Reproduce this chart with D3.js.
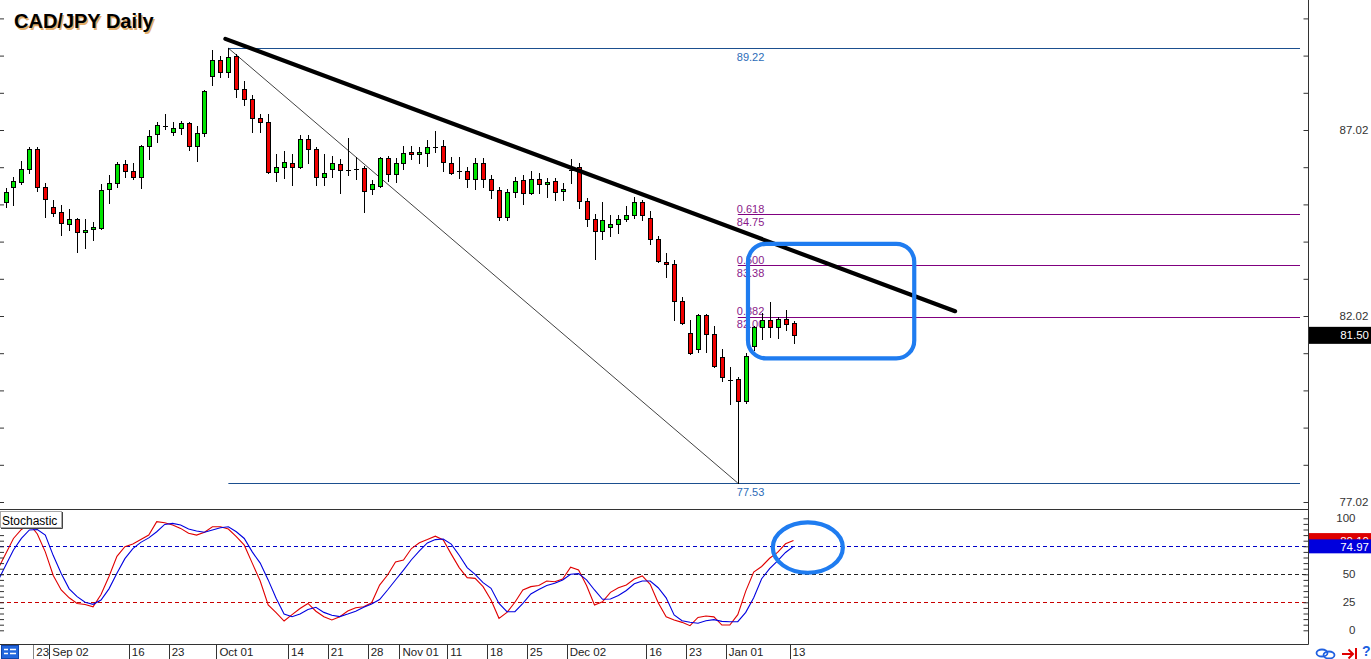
<!DOCTYPE html>
<html><head><meta charset="utf-8">
<script src="https://cdn.jsdelivr.net/npm/d3@7"></script>
<style>
html,body{margin:0;padding:0;background:#fff;overflow:hidden}
svg{display:block}
text{font-family:"Liberation Sans",Arial,sans-serif}
</style></head><body>
<script>
// ---------- DATA ----------
const openP=[85.08,85.48,85.63,85.96,86.50,85.48,84.94,84.81,84.49,84.62,
84.27,84.35,84.39,85.43,85.59,86.10,85.91,85.75,86.58,86.90,
87.14,86.96,87.07,87.20,86.58,86.93,88.46,88.89,88.59,89.01,
88.11,87.85,87.33,87.23,85.90,86.03,86.12,86.02,86.77,86.50,
85.75,85.96,86.10,85.94,85.97,85.99,85.43,85.51,86.26,85.83,
86.12,86.43,86.37,86.41,86.57,86.59,86.12,85.92,85.92,85.71,
86.12,85.69,85.41,84.67,85.35,85.68,85.32,85.69,85.56,85.65,
85.37,85.94,86.02,85.12,84.62,84.30,84.40,84.49,84.62,84.73,
85.08,84.65,84.08,83.48,83.41,82.43,81.55,81.14,82.04,81.53,
80.93,80.30,80.32,79.74,81.21,81.73,81.91,81.72,81.95,81.82];
const highP=[85.45,85.76,86.19,86.55,86.55,85.59,85.14,85.00,84.90,84.65,
84.62,84.54,85.57,85.81,86.17,86.21,86.12,86.61,87.02,87.24,
87.45,87.24,87.26,87.24,87.12,88.10,89.17,89.01,89.22,89.05,
88.34,87.95,87.45,87.44,86.37,86.46,86.37,86.89,86.89,86.55,
86.37,86.32,86.23,86.80,86.29,86.05,85.68,86.30,86.32,86.26,
86.60,86.59,86.57,86.75,86.99,86.75,86.29,86.29,86.03,86.26,
86.26,85.81,85.50,85.43,85.75,85.81,85.92,85.86,85.72,85.72,
85.59,86.24,86.12,85.18,84.76,85.08,84.74,84.74,84.98,85.23,
85.14,84.84,84.17,83.71,83.53,82.52,81.91,82.07,82.07,81.75,
81.14,80.66,80.37,81.02,81.75,82.11,82.40,82.00,82.18,81.89];
const lowP=[84.96,85.00,85.57,85.87,85.39,84.69,84.72,84.21,84.33,83.75,
83.86,84.07,84.37,85.07,85.48,85.75,85.71,85.47,86.25,86.71,
87.06,86.89,86.92,86.49,86.19,86.86,88.24,88.45,88.45,87.92,
87.68,86.97,86.97,85.87,85.66,85.74,85.55,86.01,86.14,85.55,
85.55,85.75,85.33,85.81,85.71,84.82,85.29,85.50,85.66,85.62,
85.96,86.25,86.14,86.06,86.44,85.93,85.84,85.74,85.50,85.43,
85.50,85.18,84.60,84.60,85.23,85.03,85.29,85.33,85.23,85.14,
85.14,85.59,84.92,84.45,83.54,84.08,84.18,84.24,84.57,84.66,
84.60,83.96,83.48,83.08,81.91,81.80,81.01,81.06,81.06,80.66,
80.28,79.65,77.53,79.69,81.11,81.41,81.45,81.44,81.64,81.29];
const closeP=[85.36,85.65,85.96,86.50,85.48,85.16,84.78,84.51,84.62,84.27,
84.32,84.40,85.40,85.59,86.10,85.91,85.75,86.58,86.85,87.15,
87.14,87.07,87.20,86.58,86.93,88.06,88.89,88.59,88.97,88.11,
87.85,87.33,87.23,85.90,86.03,86.15,86.03,86.77,86.50,85.75,
85.86,86.12,85.94,85.94,85.97,85.38,85.56,86.26,85.83,86.12,
86.39,86.37,86.43,86.55,86.57,86.17,85.87,85.92,85.71,86.12,
85.71,85.41,84.67,85.35,85.66,85.32,85.69,85.56,85.63,85.36,
85.43,85.94,85.12,84.62,84.30,84.60,84.49,84.62,84.73,85.08,
84.73,84.08,83.49,83.41,82.43,81.82,81.03,82.04,81.53,80.68,
80.39,80.30,79.74,80.94,81.73,81.91,81.72,81.95,81.80,81.50];
// stochastic values, first entry is the bar before the first visible candle
const stochK=[54,68,82,90,95,86,70,49,36,29,24,23,21,32,48,66,74.6,77,81,85,97,
96,94,91,86.6,85,87.5,92.5,92.5,90.4,83.6,76,60,44,22.7,15.8,8.3,14,19.5,24,17,
12.1,9.2,12.1,17.2,20.2,21,24.6,40.4,49.4,61,62.8,73,78.2,81,84,80.6,68,56,47,46.4,
39,27,10.7,16,25,36,39,40,44,43.4,45.8,56.3,53.8,40,22.6,25.5,33.9,38,40.4,45.8,
48.5,41,24.6,12.1,9.2,7.1,4.1,11.5,12.8,12,4.7,4.7,14,35,52,57,64.3,69.5,77.2,80.1];
const stochD=[43.5,57.7,71.7,82,89.6,90,85,66.7,50.8,37,30,25,23.2,27,37,51,64,73,
78.5,82.5,88,94.5,95.5,94,90.4,88.7,87.5,89.6,91.5,92.5,88,82,70,60,45,28.6,14.5,
12.1,14.5,18.5,20.5,16,13.5,12.2,14.5,17,20.5,23.5,27.5,36,44.9,53.8,63,71,78,81,
81.5,77,67,56,50,42.5,37.5,24,16.6,16.6,24,32.5,36.5,40,42,45,50,50.6,45,36,27.7,
28,31,35.5,41.5,44,44,38,29,13.7,8.5,7.2,6.3,8.5,9.5,8,7.7,7.7,16,29,46,55,62,69.5,74.97];
const dateLabels=["23","Sep 02","16","23","Oct 01","14","21","28","Nov 01","11","18","25","Dec 02","16","23","Jan 01","13"];
const dateIdx=[4,6,16,21,27,36,41,46,50,56,61,66,71,81,86,91,99];
const priceLabels=[77.02,82.02,87.02];
const priceTicks=[77.02,78.02,79.02,80.02,81.02,82.02,83.02,84.02,85.02,86.02,87.02,88.02,89.02,90.02];
const stochLabels=[0,25,50,100];
const stochLevels=[75,50,25];
const fibRatios=["0.618","0.500","0.382"];
const fibPrices=[84.75,83.38,82.00];
const swingPrices=[89.22,77.53];
const swingIdx=[28,92];
const trendIdx=[28,119.3];
const trendPrices=[89.44,82.15];
const boxIdx=[93.28,114.17];
const boxPrices=[83.96,80.88];
const ellipseAt={i:100.8,k:73.9,di:4.4,dk:22.5};
const lastPrice=81.50, lastK=80.10, lastD=74.97;

// ---------- LAYOUT ----------
const W=1371,H=659, axisX=1308.5, mainBottom=509.5, stochBottom=644.5;
const x=d3.scaleLinear().domain([0,99]).range([5.5,793.5]);
const y=d3.scaleLinear().domain([77.02,87.02]).range([502,130]);
const ys=d3.scaleLinear().domain([0,100]).range([630.3,518.3]);
const GREEN="#00e400", RED="#f00000", BLUEBOX="#1f7cf0";

const svg=d3.select("body").append("svg").attr("width",W).attr("height",H);
svg.append("rect").attr("width",W).attr("height",H).attr("fill","#fff");
const defs=svg.append("defs");
defs.append("clipPath").attr("id","cm").append("rect").attr("x",0).attr("y",0).attr("width",axisX).attr("height",mainBottom);
defs.append("clipPath").attr("id","cs").append("rect").attr("x",0).attr("y",mainBottom+1).attr("width",axisX).attr("height",stochBottom-mainBottom-1);

const main=svg.append("g").attr("clip-path","url(#cm)");

// swing lines (blue) and fib lines (purple)
main.selectAll("line.sw").data(swingPrices).join("line")
  .attr("x1",x(swingIdx[0])).attr("x2",1300).attr("y1",d=>Math.round(y(d))+0.5).attr("y2",d=>Math.round(y(d))+0.5)
  .attr("stroke","#1b4f8f").attr("stroke-width",1);
main.selectAll("text.sw").data(swingPrices).join("text")
  .attr("x",x(swingIdx[1])-1).attr("y",d=>y(d)+12.5).attr("font-size",11).attr("fill","#2c6cb8").text(d=>d.toFixed(2));
main.selectAll("line.fb").data(fibPrices).join("line")
  .attr("x1",x(swingIdx[1])).attr("x2",1300).attr("y1",d=>Math.round(y(d))+0.5).attr("y2",d=>Math.round(y(d))+0.5)
  .attr("stroke","#800080").attr("stroke-width",1);
main.selectAll("text.fr").data(fibRatios).join("text")
  .attr("x",x(swingIdx[1])-1).attr("y",(d,i)=>y(fibPrices[i])-1.5).attr("font-size",11).attr("fill","#8a1a8a").text(d=>d);
main.selectAll("text.fp").data(fibPrices).join("text")
  .attr("x",x(swingIdx[1])-1).attr("y",d=>y(d)+11.5).attr("font-size",11).attr("fill","#8a1a8a").text(d=>d.toFixed(2));

// diagonal fib line
main.append("line").attr("x1",x(swingIdx[0])).attr("y1",y(swingPrices[0])).attr("x2",x(swingIdx[1])).attr("y2",y(swingPrices[1]))
  .attr("stroke","#111").attr("stroke-width",0.8);

// candles
const idx=d3.range(openP.length);
const cg=main.append("g").selectAll("g").data(idx).join("g");
cg.append("line").attr("x1",i=>Math.round(x(i))+0.5).attr("x2",i=>Math.round(x(i))+0.5)
  .attr("y1",i=>Math.round(y(highP[i]))).attr("y2",i=>Math.round(y(lowP[i]))+1).attr("stroke","#000").attr("stroke-width",1);
cg.filter(i=>openP[i]!==closeP[i]).append("rect")
  .attr("x",i=>Math.round(x(i))-1.5).attr("width",4)
  .attr("y",i=>Math.round(y(Math.max(openP[i],closeP[i])))+0.5)
  .attr("height",i=>Math.max(1,Math.round(y(Math.min(openP[i],closeP[i])))-Math.round(y(Math.max(openP[i],closeP[i])))))
  .attr("fill",i=>closeP[i]>openP[i]?GREEN:RED).attr("stroke","#000").attr("stroke-width",1);
cg.filter(i=>openP[i]===closeP[i]).append("line")
  .attr("x1",i=>Math.round(x(i))-2).attr("x2",i=>Math.round(x(i))+3)
  .attr("y1",i=>Math.round(y(openP[i]))+0.5).attr("y2",i=>Math.round(y(openP[i]))+0.5).attr("stroke","#000").attr("stroke-width",1);

// thick trend line
main.append("line").attr("x1",x(trendIdx[0])-3).attr("y1",y(trendPrices[0])-1.1).attr("x2",x(trendIdx[1])).attr("y2",y(trendPrices[1]))
  .attr("stroke","#000").attr("stroke-width",4.2).attr("stroke-linecap","round");

// blue rounded box
main.append("rect").attr("x",x(boxIdx[0])).attr("y",y(boxPrices[0]))
  .attr("width",x(boxIdx[1])-x(boxIdx[0])).attr("height",y(boxPrices[1])-y(boxPrices[0]))
  .attr("rx",18).attr("ry",18).attr("fill","none").attr("stroke",BLUEBOX).attr("stroke-width",4.2);

// left edge price ticks
svg.append("g").attr("transform","translate(0,0)")
  .call(d3.axisRight(y).tickValues(priceTicks).tickSize(4).tickFormat(""))
  .call(g=>g.select(".domain").remove()).selectAll("line").attr("stroke","#333");

// pane borders
svg.append("line").attr("x1",0).attr("x2",axisX).attr("y1",mainBottom).attr("y2",mainBottom).attr("stroke","#333");
svg.append("line").attr("x1",0).attr("x2",axisX).attr("y1",stochBottom).attr("y2",stochBottom).attr("stroke","#333");
svg.append("line").attr("x1",axisX).attr("x2",axisX).attr("y1",0).attr("y2",stochBottom).attr("stroke","#333");

// right price axis
svg.append("g").attr("transform",`translate(${axisX},0)`)
  .call(d3.axisLeft(y).tickValues(priceTicks).tickSize(5).tickFormat(""))
  .call(g=>g.select(".domain").remove()).selectAll("line").attr("stroke","#333");
const pa=svg.append("g").attr("transform",`translate(${axisX},0)`)
  .call(d3.axisRight(y).tickValues(priceLabels).tickSize(0).tickPadding(31).tickFormat(d3.format(".2f")));
pa.select(".domain").remove();
pa.selectAll("text").attr("font-size",11.5).attr("fill","#333").attr("font-family","Liberation Sans, Arial, sans-serif");

// last price box
svg.append("rect").attr("x",axisX+0.5).attr("y",y(lastPrice)-8.5).attr("width",W-axisX).attr("height",17).attr("fill","#000");
svg.append("text").attr("x",1369).attr("y",y(lastPrice)+4).attr("text-anchor","end").attr("font-size",11.5).attr("fill","#fff").text(lastPrice.toFixed(2));

// ---------- STOCHASTIC ----------
const st=svg.append("g").attr("clip-path","url(#cs)");
const lvlCol=["#0000c8","#222","#c80000"];
st.selectAll("line.lv").data(stochLevels).join("line")
  .attr("x1",0).attr("x2",axisX).attr("y1",d=>Math.round(ys(d))+0.5).attr("y2",d=>Math.round(ys(d))+0.5)
  .attr("stroke",(d,i)=>lvlCol[i]).attr("stroke-dasharray","4,3").attr("stroke-width",1);
const line=d3.line().x((d,i)=>x(i-1)).y(d=>ys(d));
st.append("path").datum(stochK).attr("d",line).attr("fill","none").attr("stroke","#e00000").attr("stroke-width",1.1);
st.append("path").datum(stochD).attr("d",line).attr("fill","none").attr("stroke","#0000e0").attr("stroke-width",1.1);
// ellipse annotation
st.append("ellipse").attr("cx",x(ellipseAt.i)).attr("cy",ys(ellipseAt.k))
  .attr("rx",x(ellipseAt.i+ellipseAt.di)-x(ellipseAt.i)).attr("ry",ys(0)-ys(ellipseAt.dk))
  .attr("fill","none").attr("stroke",BLUEBOX).attr("stroke-width",4.2);
// left edge stoch ticks
svg.append("g").call(d3.axisRight(ys).tickValues(d3.range(0,90,5)).tickSize(4).tickFormat(""))
  .call(g=>g.select(".domain").remove()).selectAll("line").attr("stroke","#333");
// right stoch axis
svg.append("g").attr("transform",`translate(${axisX},0)`)
  .call(d3.axisLeft(ys).tickValues(d3.range(0,101,5)).tickSize(5).tickFormat(""))
  .call(g=>g.select(".domain").remove()).selectAll("line").attr("stroke","#333");
const sa=svg.append("g").attr("transform",`translate(${axisX},0)`)
  .call(d3.axisRight(ys).tickValues(stochLabels).tickSize(0).tickPadding(0));
sa.select(".domain").remove();
sa.selectAll("text").attr("x",47).attr("text-anchor","end").attr("font-size",11.5).attr("fill","#333").attr("font-family","Liberation Sans, Arial, sans-serif");
// value boxes (the %D box covers most of the %K box, as in the terminal)
svg.append("rect").attr("x",axisX+0.5).attr("y",ys(lastK)-7.5).attr("width",W-axisX).attr("height",15).attr("fill","#dd0000");
svg.append("text").attr("x",1369).attr("y",ys(lastK)+4).attr("text-anchor","end").attr("font-size",11.5).attr("fill","#fff").text(lastK.toFixed(2));
svg.append("rect").attr("x",axisX+0.5).attr("y",ys(lastD)-7).attr("width",W-axisX).attr("height",14).attr("fill","#0000dd");
svg.append("text").attr("x",1369).attr("y",ys(lastD)+4.5).attr("text-anchor","end").attr("font-size",11.5).attr("fill","#fff").text(lastD.toFixed(2));

// Stochastic label box
svg.append("rect").attr("x",0.5).attr("y",511.5).attr("width",61).attr("height",16).attr("fill","#fff").attr("stroke","#aaa");
svg.append("path").attr("d","M62.5,512 V528.5 H1").attr("fill","none").attr("stroke","#444");
svg.append("text").attr("x",2).attr("y",524.5).attr("font-size",12).attr("fill","#000").text("Stochastic");

// ---------- TIME AXIS ----------
const tg=svg.append("g").selectAll("g").data(dateIdx).join("g");
tg.append("line").attr("x1",i=>Math.round(x(i)-4)+0.5).attr("x2",i=>Math.round(x(i)-4)+0.5).attr("y1",stochBottom).attr("y2",H)
  .attr("stroke","#333");
tg.append("text").attr("x",i=>x(i)-1).attr("y",656).attr("font-size",11.5).attr("fill","#222").text((d,k)=>dateLabels[k]);
// bottom-left icon
svg.append("rect").attr("x",0).attr("y",645).attr("width",33).attr("height",14).attr("fill","#fff");
svg.append("rect").attr("x",1.5).attr("y",645.5).attr("width",17).attr("height",13).attr("fill","#2266dd").attr("stroke","#1144aa");
svg.append("path").attr("d","M4,649.5H8M10,649.5H16M4,653.5H8M10,653.5H16").attr("stroke","#fff").attr("stroke-width",1.6);
svg.append("line").attr("x1",33.5).attr("x2",33.5).attr("y1",645).attr("y2",H).attr("stroke","#888");
// bottom-right icons
svg.append("ellipse").attr("cx",1322).attr("cy",653).attr("rx",5.5).attr("ry",3.5).attr("fill","none").attr("stroke","#2060e0").attr("stroke-width",1.8);
svg.append("ellipse").attr("cx",1329).attr("cy",655).attr("rx",5.5).attr("ry",3.5).attr("fill","none").attr("stroke","#2060e0").attr("stroke-width",1.8);
svg.append("path").attr("d","M1342,654H1353M1348.5,649.5L1353,654L1348.5,658.5M1356,648V659").attr("fill","none").attr("stroke","#e00000").attr("stroke-width",2);
svg.append("text").attr("x",1362).attr("y",656).attr("font-size",14).attr("font-weight","bold").attr("fill","#2060e0").text("?");

// ---------- TITLE ----------
svg.append("text").attr("x",15.5).attr("y",29.5).attr("font-size",20).attr("font-weight","bold").attr("fill","#e0a050").attr("opacity",0.85).text("CAD/JPY Daily");
svg.append("text").attr("x",14).attr("y",28).attr("font-size",20).attr("font-weight","bold").attr("fill","#000").text("CAD/JPY Daily");
</script>
</body></html>
